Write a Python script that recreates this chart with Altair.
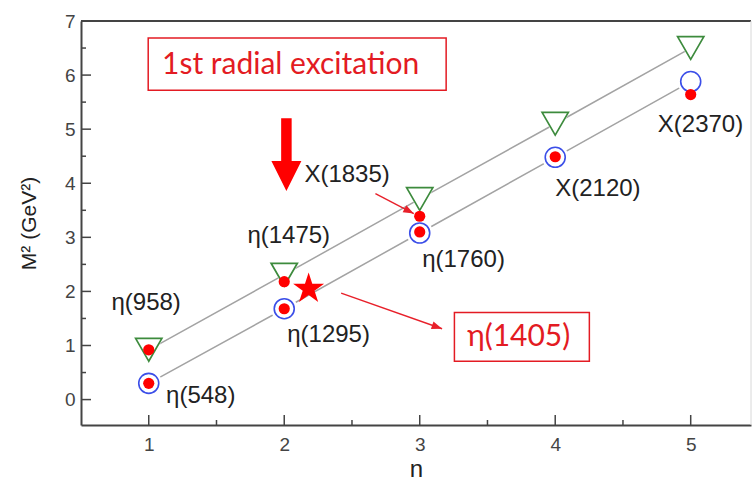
import altair as alt
import pandas as pd

# ---------------- values ----------------
n_vals = [1, 2, 3, 4, 5]
m2_lower_pred = [0.30, 1.68, 3.08, 4.48, 5.88]   # blue open circles
m2_upper_pred = [0.92, 2.31, 3.71, 5.10, 6.50]   # green open triangles

exp_n = [1, 2, 3, 4, 5, 1, 2, 3]                 # red dots (measured)
exp_m2 = [0.30, 1.68, 3.10, 4.49, 5.64, 0.92, 2.18, 3.39]

label_text = ["η(958)", "η(548)", "η(1475)", "η(1295)", "η(1760)",
              "X(1835)", "X(2120)", "X(2370)"]
label_n = [0.725, 1.128, 1.728, 2.022, 3.018, 2.149, 4.0, 4.757]
label_m2 = [1.78, 0.06, 3.02, 1.19, 2.58, 4.15, 3.90, 5.07]

star_n = [2.18]
star_m2 = [2.05]

bigarrow_n = [2.016]
bigarrow_m2 = [4.53]

arrow_from_n = [2.673, 2.42]
arrow_from_m2 = [3.81, 1.97]
arrow_to_n = [2.956, 3.165]
arrow_to_m2 = [3.44, 1.31]

box_text = ["1st radial excitation", "η(1405)"]
box_text_n = [1.098, 3.35]
box_text_m2 = [6.18, 1.157]
box_n1 = [0.996, 3.256]
box_n2 = [3.195, 4.252]
box_m2_top = [6.686, 1.609]
box_m2_bot = [5.72, 0.708]

x_tick_labels = [1, 2, 3, 4, 5]
x_ticks_minor = [1.5, 2.5, 3.5, 4.5]
y_tick_labels = [0, 1, 2, 3, 4, 5, 6, 7]
y_ticks_major = [0, 1, 2, 3, 4, 5, 6]
y_ticks_minor = [0.5, 1.5, 2.5, 3.5, 4.5, 5.5, 6.5]

# ---------------- tables ----------------
lines_df = pd.DataFrame({
    "n": n_vals + n_vals,
    "m2": m2_lower_pred + m2_upper_pred,
    "series": ["lower"] * 5 + ["upper"] * 5,
})
lower_df = pd.DataFrame({"n": n_vals, "m2": m2_lower_pred})
upper_df = pd.DataFrame({"n": n_vals, "m2": m2_upper_pred})
exp_df = pd.DataFrame({"n": exp_n, "m2": exp_m2})
lab_df = pd.DataFrame({"n": label_n, "m2": label_m2, "t": label_text})
star_df = pd.DataFrame({"n": star_n, "m2": star_m2})
big_df = pd.DataFrame({"n": bigarrow_n, "m2": bigarrow_m2})
arr_df = pd.DataFrame({"n": arrow_from_n, "m2": arrow_from_m2,
                       "n_end": arrow_to_n, "m2_end": arrow_to_m2})
box_df = pd.DataFrame({"n": box_n1, "n_end": box_n2,
                       "m2": box_m2_top, "m2_end": box_m2_bot})
btxt_df = pd.DataFrame({"n": box_text_n, "m2": box_text_m2, "t": box_text})
xmaj_df = pd.DataFrame({"n": x_tick_labels})
xmin_df = pd.DataFrame({"n": x_ticks_minor})
ymaj_df = pd.DataFrame({"m2": y_ticks_major})
ymin_df = pd.DataFrame({"m2": y_ticks_minor})
one_df = pd.DataFrame({"a": [0]})

W, H = 670, 404
xs = alt.Scale(domain=[0.5, 5.445], nice=False, zero=False)
ys = alt.Scale(domain=[-0.47, 7], nice=False, zero=False)

x_axis = alt.Axis(values=x_tick_labels, ticks=False, grid=False,
                  domainColor="#444", domainWidth=2,
                  labelFont="Liberation Sans", labelFontSize=19,
                  labelColor="#444", labelPadding=10,
                  titleFont="Liberation Sans", titleFontSize=24,
                  titleFontWeight="normal", titleColor="#222",
                  titleY=44, titleBaseline="middle")
y_axis = alt.Axis(values=y_tick_labels, ticks=False, grid=False,
                  domainColor="#444", domainWidth=2,
                  labelFont="Liberation Sans", labelFontSize=19,
                  labelColor="#444", labelPadding=6,
                  titleFont="Liberation Sans", titleFontSize=21,
                  titleFontWeight="normal", titleColor="#222",
                  titleX=-52, titleY=202, titleAlign="center",
                  titleBaseline="middle", titleAngle=270)


def X(field="n"):
    return alt.X(f"{field}:Q", scale=xs, axis=x_axis, title="n")


def Y(field="m2"):
    return alt.Y(f"{field}:Q", scale=ys, axis=y_axis, title="M² (GeV²)")


RED = "#ff0000"

lines = alt.Chart(lines_df).mark_line(color="#a3a3a3", strokeWidth=1.5).encode(
    x=X(), y=Y(), detail="series:N")

gap_c = alt.Chart(lower_df).mark_point(shape="circle", filled=True, color="white",
                                        size=700, opacity=1, strokeWidth=0).encode(x=X(), y=Y())
gap_t = alt.Chart(upper_df).mark_point(shape="triangle-down", filled=True, color="white",
                                        size=1000, opacity=1, strokeWidth=0).encode(x=X(), y=Y())

circles = alt.Chart(lower_df).mark_point(shape="circle", filled=False, color="#3b4ee8",
                                          size=400, strokeWidth=1.6, opacity=1).encode(x=X(), y=Y())
tris = alt.Chart(upper_df).mark_point(shape="triangle-down", filled=False, color="#3d8b3d",
                                       size=690, strokeWidth=1.7, opacity=1).encode(x=X(), y=Y())
dots = alt.Chart(exp_df).mark_point(shape="circle", filled=True, color=RED,
                                     size=125, strokeWidth=0, opacity=1).encode(x=X(), y=Y())

star_path = ("M0,-1L0.2245,-0.309L0.951,-0.309L0.363,0.118L0.588,0.809L0,0.382"
             "L-0.588,0.809L-0.363,0.118L-0.951,-0.309L-0.2245,-0.309Z")
star = alt.Chart(star_df).mark_point(shape=star_path, filled=True, color=RED,
                                      size=1060, strokeWidth=0, opacity=1).encode(x=X(), y=Y())

big_path = ("M-0.35,-2.43L0.35,-2.43L0.35,0.43L1,0.43L0,2.43L-1,0.43L-0.35,0.43Z")
bigarrow = alt.Chart(big_df).mark_point(shape=big_path, filled=True, color=RED,
                                         size=900, strokeWidth=0, opacity=1).encode(x=X(), y=Y())

arr_lines = alt.Chart(arr_df).mark_rule(color="#e8202a", strokeWidth=1.4).encode(
    x=X(), y=Y(), x2="n_end:Q", y2="m2_end:Q")

head_path = "M0,0L-2,-0.75L-2,0.75Z"
heads = []
for i, ang in enumerate([27.6, 19.4]):
    heads.append(
        alt.Chart(arr_df.iloc[[i]]).mark_point(shape=head_path, filled=True, color="#e8202a",
                                                size=110, strokeWidth=0, opacity=1,
                                                angle=ang).encode(x=X("n_end"), y=Y("m2_end"))
    )

boxes = alt.Chart(box_df).mark_rect(fill="white", stroke="#e31b23", strokeWidth=1.5).encode(
    x=X(), x2="n_end:Q", y=Y(), y2="m2_end:Q")

box_texts = alt.Chart(btxt_df).mark_text(align="left", baseline="middle", font="Lato",
                                         fontSize=30, color="#e31b23").encode(
    x=X(), y=Y(), text="t:N")

labels = alt.Chart(lab_df).mark_text(align="left", baseline="middle", font="Liberation Sans",
                                     fontSize=24, color="#222").encode(
    x=X(), y=Y(), text="t:N")

tick_col = "#444"
xmaj = alt.Chart(xmaj_df).mark_rule(color=tick_col, strokeWidth=1.5).encode(
    x=X(), y=alt.value(H), y2=alt.value(H - 10))
xmin = alt.Chart(xmin_df).mark_rule(color=tick_col, strokeWidth=1.5).encode(
    x=X(), y=alt.value(H), y2=alt.value(H - 5))
ymaj = alt.Chart(ymaj_df).mark_rule(color=tick_col, strokeWidth=1.5).encode(
    y=Y(), x=alt.value(0), x2=alt.value(10))
ymin = alt.Chart(ymin_df).mark_rule(color=tick_col, strokeWidth=1.5).encode(
    y=Y(), x=alt.value(0), x2=alt.value(5))

top_edge = alt.Chart(one_df).mark_rule(color="#444", strokeWidth=2).encode(
    x=alt.value(0), x2=alt.value(W), y=alt.value(0))
right_edge = alt.Chart(one_df).mark_rule(color="#d8d8d8", strokeWidth=1).encode(
    x=alt.value(W), y=alt.value(0), y2=alt.value(H))

chart = alt.layer(
    lines, gap_c, gap_t, circles, tris, dots, star, bigarrow,
    arr_lines, *heads, boxes, box_texts, labels,
    xmaj, xmin, ymaj, ymin, top_edge, right_edge,
).properties(
    width=W, height=H,
    autosize=alt.AutoSizeParams(type="none"),
    padding={"left": 81, "top": 21, "right": 2, "bottom": 57},
    background="white",
).configure_view(stroke="transparent")

chart.save("out.html", embed_options={"renderer": "svg", "actions": False})
